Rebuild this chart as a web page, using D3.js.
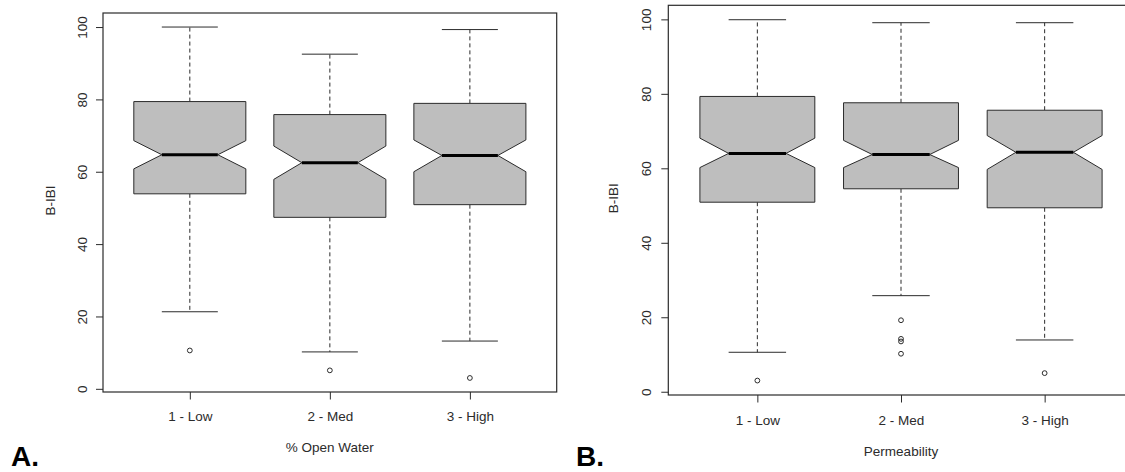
<!DOCTYPE html>
<html>
<head>
<meta charset="utf-8">
<script src="https://cdn.jsdelivr.net/npm/d3@7"></script>
<style>
  html, body { margin: 0; padding: 0; background: #fff; }
  svg { display: block; font-family: "Liberation Sans", Arial, sans-serif; }
</style>
</head>
<body>
<svg id="chart" width="1125" height="472"></svg>
<script>
// Categories shared by both panels
const categories = ["1 - Low", "2 - Med", "3 - High"];
const yTicks = [0, 20, 40, 60, 80, 100];

// Panel A: B-IBI by % Open Water class (box statistics)
const owWhiskerHigh = [100.0, 92.5, 99.3];
const owQ3          = [79.4, 75.8, 78.9];
const owNotchHigh   = [68.6, 67.1, 68.8];
const owMedian      = [64.7, 62.5, 64.5];
const owNotchLow    = [60.8, 57.9, 60.0];
const owQ1          = [53.9, 47.4, 50.9];
const owWhiskerLow  = [21.3, 10.2, 13.2];
const owOutliers    = [[10.6], [5.1], [3.0]];

// Panel B: B-IBI by Permeability class (box statistics)
const pmWhiskerHigh = [99.9, 99.1, 99.1];
const pmQ3          = [79.3, 77.6, 75.6];
const pmNotchHigh   = [68.1, 67.5, 68.8];
const pmMedian      = [64.0, 63.7, 64.3];
const pmNotchLow    = [60.2, 60.2, 59.7];
const pmQ1          = [50.9, 54.5, 49.4];
const pmWhiskerLow  = [10.6, 25.8, 13.9];
const pmOutliers    = [[3.0], [19.2, 14.2, 13.5, 10.2], [5.0]];

const svg = d3.select("#chart");
const ink = "#2b2b2b";
const boxFill = "#bebebe";
const fontSize = 13.5;

function drawPanel(p) {
  const g = svg.append("g");

  // R-style axis extents: 4% padding around the data range
  const all = [].concat(p.whiskerHigh, p.whiskerLow, ...p.outliers);
  const lo = d3.min(all), hi = d3.max(all), pad = (hi - lo) * 0.04;
  const y = d3.scaleLinear().domain([lo - pad, hi + pad]).range([p.bottom, p.top]);
  const x = d3.scaleLinear().domain([0.5 - 0.12, categories.length + 0.5 + 0.12])
              .range([p.left, p.right]);
  const hw = x(1.4) - x(1);   // half box width
  const nw = hw / 2;          // half notch width at the median

  categories.forEach((c, i) => {
    const cx = x(i + 1);
    // dashed whiskers
    g.append("line").attr("x1", cx).attr("x2", cx)
      .attr("y1", y(p.q3[i])).attr("y2", y(p.whiskerHigh[i]))
      .attr("stroke", ink).attr("stroke-width", 1).attr("stroke-dasharray", "4,3");
    g.append("line").attr("x1", cx).attr("x2", cx)
      .attr("y1", y(p.q1[i])).attr("y2", y(p.whiskerLow[i]))
      .attr("stroke", ink).attr("stroke-width", 1).attr("stroke-dasharray", "4,3");
    // staples
    [p.whiskerHigh[i], p.whiskerLow[i]].forEach(v => {
      g.append("line").attr("x1", cx - nw).attr("x2", cx + nw)
        .attr("y1", y(v)).attr("y2", y(v))
        .attr("stroke", ink).attr("stroke-width", 1);
    });
    // notched box
    const pts = [
      [cx - hw, y(p.q1[i])], [cx - hw, y(p.notchLow[i])], [cx - nw, y(p.median[i])],
      [cx - hw, y(p.notchHigh[i])], [cx - hw, y(p.q3[i])], [cx + hw, y(p.q3[i])],
      [cx + hw, y(p.notchHigh[i])], [cx + nw, y(p.median[i])], [cx + hw, y(p.notchLow[i])],
      [cx + hw, y(p.q1[i])]
    ];
    g.append("path").attr("d", d3.line()(pts) + "Z")
      .attr("fill", boxFill).attr("stroke", ink).attr("stroke-width", 1);
    // median
    g.append("line").attr("x1", cx - nw).attr("x2", cx + nw)
      .attr("y1", y(p.median[i])).attr("y2", y(p.median[i]))
      .attr("stroke", "#000").attr("stroke-width", 3);
    // outliers
    g.selectAll(null).data(p.outliers[i]).enter().append("circle")
      .attr("cx", cx).attr("cy", d => y(d)).attr("r", 2.4)
      .attr("fill", "none").attr("stroke", ink).attr("stroke-width", 1);
  });

  // plot frame
  g.append("rect").attr("x", p.left).attr("y", p.top)
    .attr("width", p.right - p.left).attr("height", p.bottom - p.top)
    .attr("fill", "none").attr("stroke", ink).attr("stroke-width", 1.2);

  // y axis with rotated tick labels
  const ya = g.append("g").attr("transform", `translate(${p.left},0)`)
    .call(d3.axisLeft(y).tickValues(yTicks).tickSize(7).tickFormat(d3.format("d")));
  ya.select(".domain").remove();
  ya.selectAll(".tick line").attr("stroke", ink);
  ya.selectAll(".tick text")
    .attr("x", 0).attr("dy", null).attr("y", p.yLabelOffset)
    .attr("transform", "rotate(-90)").attr("text-anchor", "middle")
    .attr("font-size", fontSize).attr("font-family", "Liberation Sans, Arial, sans-serif")
    .attr("fill", ink);

  // x axis
  const xa = g.append("g").attr("transform", `translate(0,${p.bottom})`)
    .call(d3.axisBottom(x).tickValues([1, 2, 3]).tickSize(7.5)
      .tickFormat(d => categories[d - 1]));
  xa.select(".domain").remove();
  xa.selectAll(".tick line").attr("stroke", ink);
  xa.selectAll(".tick text").attr("dy", null).attr("y", p.xLabelOffset)
    .attr("font-size", fontSize).attr("font-family", "Liberation Sans, Arial, sans-serif")
    .attr("fill", ink);

  // axis titles
  g.append("text").attr("x", (p.left + p.right) / 2).attr("y", p.xTitleY)
    .attr("text-anchor", "middle").attr("font-size", fontSize).attr("fill", ink)
    .text(p.xTitle);
  const ty = (p.top + p.bottom) / 2 - 2;
  g.append("text").attr("transform", `translate(${p.yTitleX},${ty}) rotate(-90)`)
    .attr("text-anchor", "middle").attr("font-size", fontSize).attr("fill", ink)
    .text("B-IBI");

  // panel letter
  g.append("text").attr("x", p.letterX).attr("y", 466)
    .attr("font-size", 28).attr("font-weight", "bold").attr("fill", "#000")
    .text(p.letter);
}

drawPanel({
  left: 103, right: 556.7, top: 13, bottom: 392,
  whiskerHigh: owWhiskerHigh, q3: owQ3, notchHigh: owNotchHigh, median: owMedian,
  notchLow: owNotchLow, q1: owQ1, whiskerLow: owWhiskerLow, outliers: owOutliers,
  yLabelOffset: -16, xLabelOffset: 29, xTitleY: 452, yTitleX: 55,
  xTitle: "% Open Water", letter: "A.", letterX: 11
});

drawPanel({
  left: 668.3, right: 1133.7, top: 5.3, bottom: 395,
  whiskerHigh: pmWhiskerHigh, q3: pmQ3, notchHigh: pmNotchHigh, median: pmMedian,
  notchLow: pmNotchLow, q1: pmQ1, whiskerLow: pmWhiskerLow, outliers: pmOutliers,
  yLabelOffset: -17.5, xLabelOffset: 30, xTitleY: 455.5, yTitleX: 618.3,
  xTitle: "Permeability", letter: "B.", letterX: 576
});
</script>
</body>
</html>
